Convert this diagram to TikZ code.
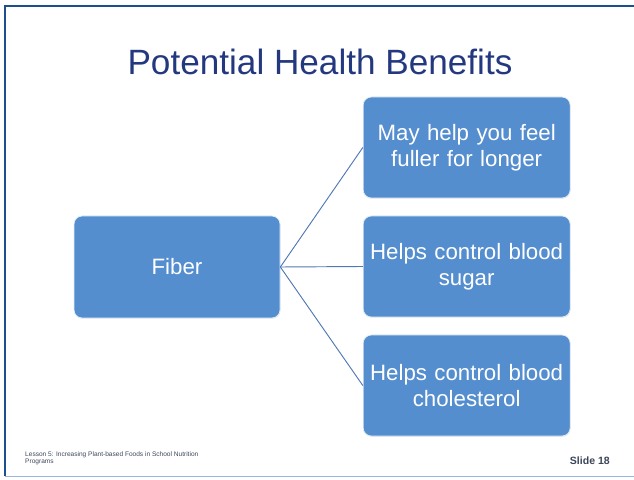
\documentclass[tikz,border=0pt]{standalone}
\usepackage{fontspec}
\setmainfont{Liberation Sans}
\usetikzlibrary{positioning,shadows}
\definecolor{slideblue}{RGB}{84,142,207}
\definecolor{slideline}{RGB}{80,120,180}
\definecolor{titleblue}{RGB}{36,56,128}
\definecolor{frameblue}{RGB}{28,80,140}
\definecolor{framelight}{RGB}{150,182,222}
\definecolor{footgray}{RGB}{60,70,90}

\begin{document}
\begin{tikzpicture}[
  benefit/.style={draw=white!85!slideblue,line width=.6pt,rounded corners=7pt,fill=slideblue,
    inner sep=2pt,minimum width=6.21cm,text width=5.9cm,minimum height=3.03cm,align=center,
    text=white,font=\fontsize{19}{22.5}\selectfont,
    drop shadow={shadow xshift=.3pt,shadow yshift=-.6pt,opacity=.25}},
  branch/.style={line width=.8pt,draw=slideline}
]
\useasboundingbox (0,0) rectangle (19.02,14.37);

% slide frame
\draw[frameblue,line width=2.2pt] (.15,.09) -- (.15,14.19) -- (19.02,14.19);
\draw[framelight,line width=.8pt] (.15,.09) -- (19.02,.09);

\node[font=\fontsize{30}{36}\selectfont,text=titleblue] (title) at (9.6,12.51) {Potential Health Benefits};

\node[benefit,minimum width=6.18cm,minimum height=3.06cm] (fiber) at (5.31,6.36) {Fiber};
\node[benefit] (fuller) at (14.0,9.945) {May help you feel\\fuller for longer};
\node[benefit] (sugar) at (14.0,6.375) {Helps control blood\\sugar};
\node[benefit] (chol) at (14.0,2.805) {Helps control blood\\cholesterol};

\draw[branch] (fiber.east) -- (fuller.west);
\draw[branch] (fiber.east) -- (sugar.west);
\draw[branch] (fiber.east) -- (chol.west);

% footer
\node[anchor=west,align=left,font=\fontsize{5.6}{5}\selectfont,text=footgray,inner sep=0pt] (lesson) at (.75,.63)
 {Lesson 5: Increasing Plant-based Foods in School Nutrition\\Programs};
\node[anchor=east,font=\bfseries\fontsize{9}{10}\selectfont,text=footgray,inner sep=0pt] (slideno) at (18.3,.54) {Slide 18};
\end{tikzpicture}
\end{document}
